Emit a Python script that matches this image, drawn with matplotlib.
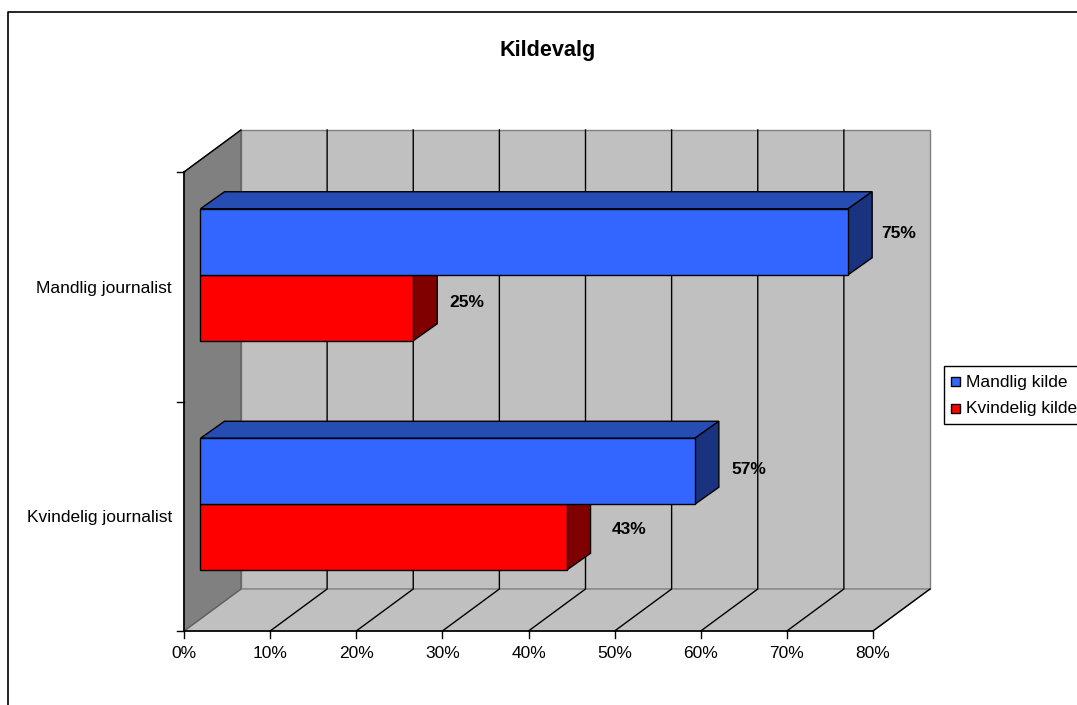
import matplotlib
matplotlib.use("Agg")
from matplotlib import pyplot as plt
from matplotlib.patches import Polygon, Rectangle

plt.rcParams['font.family'] = ['Liberation Sans', 'DejaVu Sans']

title = "Kildevalg"
categories = ["Kvindelig journalist", "Mandlig journalist"]
series_names = ["Mandlig kilde", "Kvindelig kilde"]
mandlig = [57.4, 75.2]
kvindelig = [42.5, 24.7]
mandlig_labels = ["57%", "75%"]
kvindelig_labels = ["43%", "25%"]
x_ticks = [0, 10, 20, 30, 40, 50, 60, 70, 80]

W, H = 1077, 705
X0, X80 = 184, 873
Y0, Y2 = 631, 172
sx = (X80 - X0) / 80.0
sy = (Y0 - Y2) / 2.0
FS = 12.5


def dx(px):
    return px / sx


def dy(px):
    return px / sy


fig = plt.figure(figsize=(W / 100, H / 100), dpi=100)
ax = fig.add_axes([0, 0, 1, 1])
# whole figure is one axes, percent on x and category units on y
ax.set_xlim(-X0 / sx, (W - X0) / sx)
ax.set_ylim(-(H - Y0) / sy, Y0 / sy)
ax.axis("off")

depth_x, depth_y = dx(57), dy(42)
top = 2.0


def poly(pts, fc, ec="black", lw=1.0, z=2):
    ax.add_patch(Polygon(pts, closed=True, fc=fc, ec=ec, lw=lw, zorder=z, joinstyle="miter"))


# outer frame, right and bottom run off the picture
ax.plot([dx(8 - X0), dx(8 - X0), dx(W - X0)], [dy(Y0 - H), dy(Y0 - 12), dy(Y0 - 12)],
        color="black", lw=1.2, zorder=1)

# walls and floor
poly([(depth_x, depth_y), (80 + depth_x, depth_y), (80 + depth_x, top + depth_y), (depth_x, top + depth_y)],
     "#c0c0c0", ec="#808080")
poly([(0, 0), (80, 0), (80 + depth_x, depth_y), (depth_x, depth_y)], "#c0c0c0", ec="#808080")
poly([(0, 0), (depth_x, depth_y), (depth_x, top + depth_y), (0, top)], "#808080", ec="#606060")

# gridlines on floor and back wall, the last one only on the floor
for t in x_ticks[1:-1]:
    ax.plot([t, t + depth_x, t + depth_x], [0, depth_y, top + depth_y], color="black", lw=1.0, zorder=3)
ax.plot([80, 80 + depth_x], [0, depth_y], color="black", lw=1.0, zorder=3)
ax.plot([0, depth_x], [top, top + depth_y], color="black", lw=1.0, zorder=3)

# axes lines and ticks
ax.plot([0, 0], [0, top], color="black", lw=1.2, zorder=3)
ax.plot([0, 80], [0, 0], color="black", lw=1.2, zorder=3)
for t in x_ticks:
    ax.plot([t, t], [0, dy(-7)], color="black", lw=1.0, zorder=3)
    ax.text(t, dy(-23), "%d%%" % t, ha="center", va="center", fontsize=FS)
for c in range(3):
    ax.plot([dx(-7), 0], [c, c], color="black", lw=1.0, zorder=3)
for i, name in enumerate(categories):
    ax.text(dx(-12), i + 0.5 + dy(-1.5), name, ha="right", va="center", fontsize=FS)

# bars
bar_h = dy(66)
off_x, off_y = dx(16.5), dy(12)
bd_x, bd_y = dx(24), dy(17)
# pixel offsets of the value labels from the bar end and the shared bar edge
mandlig_off = [(54, 35), (51, 41)]
kvindelig_off = [(63, -25), (54, -28)]


def bar3d(val, y_low, front, top_c, side):
    x1 = off_x
    x2 = off_x + val
    y1 = y_low
    y2 = y_low + bar_h
    poly([(x1, y2), (x2, y2), (x2 + bd_x, y2 + bd_y), (x1 + bd_x, y2 + bd_y)], top_c, z=5)
    poly([(x2, y1), (x2 + bd_x, y1 + bd_y), (x2 + bd_x, y2 + bd_y), (x2, y2)], side, z=5)
    ax.add_patch(Rectangle((x1, y1), val, bar_h, fc=front, ec="black", lw=1.0, zorder=6))


for i in range(len(categories)):
    mid = i + 0.5 + off_y
    # red first so the blue edge sits on top of the shared line
    bar3d(kvindelig[i], mid - bar_h, "#ff0000", "#c00000", "#800000")
    bar3d(mandlig[i], mid, "#3366ff", "#264db3", "#19337f")
    ox, oy = mandlig_off[i]
    ax.text(off_x + mandlig[i] + dx(ox), mid + dy(oy), mandlig_labels[i], ha="center", va="center",
            fontsize=FS, fontweight="bold", zorder=7)
    ox, oy = kvindelig_off[i]
    ax.text(off_x + kvindelig[i] + dx(ox), mid + dy(oy), kvindelig_labels[i], ha="center", va="center",
            fontsize=FS, fontweight="bold", zorder=7)

ax.text(dx(548 - X0), dy(Y0 - 51), title, ha="center", va="center", fontsize=15.6, fontweight="bold")

# legend, clipped by the right side of the picture
ax.add_patch(Rectangle((dx(944 - X0), dy(Y0 - 424)), dx(140), dy(58), fc="white", ec="black", lw=1.0, zorder=2))
for name, col, yp in zip(series_names, ["#3366ff", "#ff0000"], [382, 409]):
    ax.add_patch(Rectangle((dx(951 - X0), dy(Y0 - yp - 4.5)), dx(9), dy(9), fc=col, ec="black", lw=1.0, zorder=3))
    ax.text(dx(966 - X0), dy(Y0 - yp), name, ha="left", va="center", fontsize=FS, zorder=3)

plt.savefig("out.png", dpi=100)
